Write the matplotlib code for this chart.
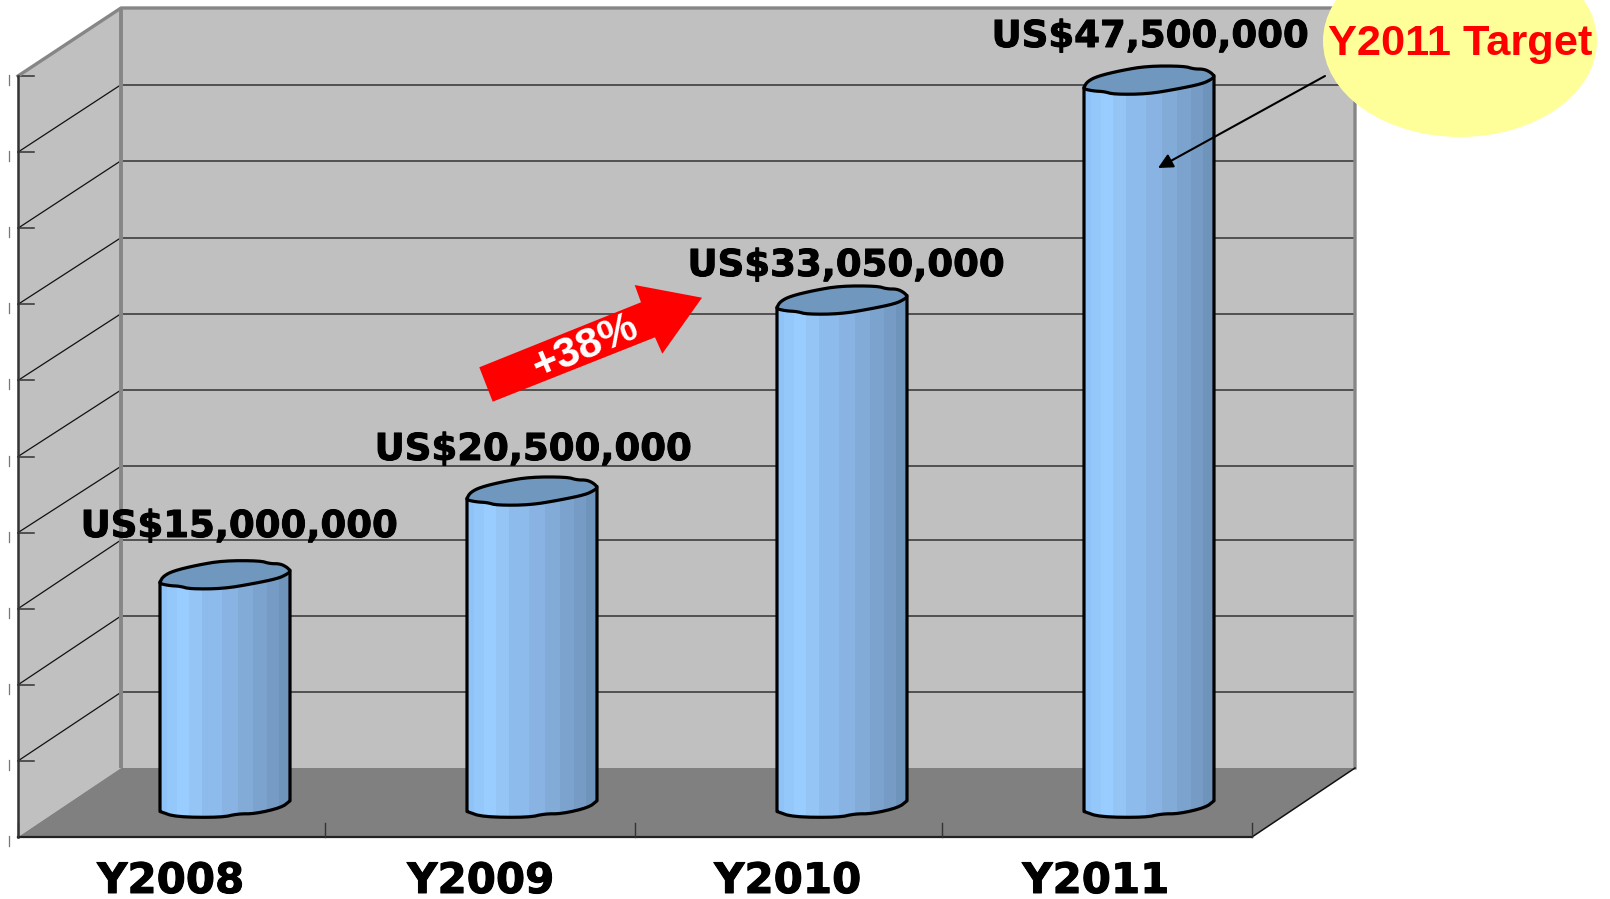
import numpy as np
import matplotlib
matplotlib.use("Agg")
import matplotlib.pyplot as plt
from matplotlib.patches import Polygon, Ellipse
import matplotlib.patheffects as pe

# ---- data ----
categories = ["Y2008", "Y2009", "Y2010", "Y2011"]
values = [15000000, 20500000, 33050000, 47500000]
value_labels = ["US$15,000,000", "US$20,500,000", "US$33,050,000", "US$47,500,000"]
axis_ticks = [0, 5e6, 10e6, 15e6, 20e6, 25e6, 30e6, 35e6, 40e6, 45e6, 50e6]
growth_label = "+38%"
target_label = "Y2011 Target"

# ---- layout (pixels of the 1610x899 canvas) ----
W, H = 1610, 899
PX_PER_UNIT = 15.22 / 1e6
BAR_BASE_PX, BACK_BASE_PX, FRONT_BASE_PX = 803.5, 768, 837
CAT0_PX, CAT_STEP_PX = 225, 308
BAR_NUDGE_PX = [0, -1, 1, 0]
FRONT_L, FRONT_R, BACK_L, BACK_R = 18, 1252, 121, 1355
HALF_W = 65 / CAT_STEP_PX
BACK_GRID_PX = [692.3, 616, 540, 466.3, 390, 313.7, 237.7, 160.7, 84.7]

fig = plt.figure(figsize=(W / 100, H / 100), dpi=100, facecolor="white")

def overlay(z):
    a = fig.add_axes([0, 0, 1, 1], zorder=z)
    a.set_xlim(0, W)
    a.set_ylim(H, 0)
    a.axis("off")
    return a

back = overlay(1)
front = overlay(3)

# ---- 3D box ----
WALL, FLOOR, EDGE, DARK = "#C0C0C0", "#808080", "#868686", "#333333"
back.add_patch(Polygon([(BACK_L, 8), (BACK_R, 8), (BACK_R, BACK_BASE_PX), (BACK_L, BACK_BASE_PX)],
                       fc=WALL, ec="none"))
back.add_patch(Polygon([(FRONT_L, 76), (BACK_L, 8), (BACK_L, BACK_BASE_PX), (FRONT_L, FRONT_BASE_PX)],
                       fc=WALL, ec="none"))
back.add_patch(Polygon([(FRONT_L, FRONT_BASE_PX), (FRONT_R, FRONT_BASE_PX),
                        (BACK_R, BACK_BASE_PX), (BACK_L, BACK_BASE_PX)], fc=FLOOR, ec="none"))

for t, gy in zip(axis_ticks[1:-1], BACK_GRID_PX):
    d = t * PX_PER_UNIT
    back.plot([BACK_L, BACK_R], [gy, gy], color=DARK, lw=1.1, zorder=2)
    back.plot([FRONT_L, BACK_L], [FRONT_BASE_PX - d, gy], color="#111111", lw=0.9, zorder=2)
for t in axis_ticks:
    y = FRONT_BASE_PX - t * PX_PER_UNIT
    back.plot([FRONT_L, FRONT_L + 16], [y, y], color=DARK, lw=1.1, zorder=3)
    back.plot([8.5, 8.5], [y - 1, y + 9], color="#777777", lw=0.9, zorder=3)

back.plot([BACK_L, BACK_L], [8, BACK_BASE_PX], color=EDGE, lw=2.8, zorder=4, solid_capstyle="butt")
back.plot([FRONT_L, BACK_L, BACK_R, BACK_R], [76, 8, 8, BACK_BASE_PX], color=EDGE, lw=2.4, zorder=4)
back.plot([FRONT_L, FRONT_L], [76, FRONT_BASE_PX], color=DARK, lw=1.8, zorder=5)
back.plot([FRONT_L, FRONT_R], [FRONT_BASE_PX] * 2, color="#222222", lw=1.6, zorder=5)
back.plot([FRONT_R, BACK_R], [FRONT_BASE_PX, BACK_BASE_PX], color="#111111", lw=1.1, zorder=5)
for i in range(len(categories) + 1):
    x = [FRONT_L, 325, 635, 942, FRONT_R][i]
    back.plot([x, x], [FRONT_BASE_PX, FRONT_BASE_PX - 14], color=DARK, lw=1.0, zorder=5)

# ---- bars (cylinders) on real data axes ----
ax = fig.add_axes([0, 0, 1, 1], zorder=2)
ax.patch.set_alpha(0)
ax.axis("off")
ax.set_xlim(-CAT0_PX / CAT_STEP_PX, (W - CAT0_PX) / CAT_STEP_PX)
ax.set_ylim((BAR_BASE_PX - H) / PX_PER_UNIT, BAR_BASE_PX / PX_PER_UNIT)

STRIP_EDGES = np.array([-65, -58, -48, -36, -22.7, -2.7, 12.7, 28.3, 41.7, 54.3, 65]) / 65
STRIP_COLORS = ["#8FC3F7", "#94C8FB", "#99CCFF", "#94C5F5", "#8DBBEB",
                "#88B3E2", "#82ABD8", "#7CA3CE", "#769CC6", "#6F94BC"]
CAP_COLOR = "#7098BF"
CAP_SHAPE = np.array([(-65, -6.7), (-61.7, -1), (-51.7, 4.3), (-28.3, 10), (-1.7, 14.5), (35, 14.5),
                      (45, 11.5), (55, 11.5), (62, 8), (65.5, 4), (62, 1.0), (53, -3.3), (28, -8.5),
                      (-1.7, -13.5), (-35, -13.8), (-45, -11), (-55, -10.5), (-65, -8.5)])
BASE_SHAPE = np.array([(-65, -8), (-49.3, -13.5), (-3.3, -14), (12.7, -10.3), (30, -10.3),
                       (56.7, -4), (65, 2.7)])

def chaikin(pts, closed, n=2):
    for _ in range(n):
        a = pts
        b = np.roll(a, -1, axis=0) if closed else a[1:]
        a2 = a if closed else a[:-1]
        q = 0.75 * a2 + 0.25 * b
        r = 0.25 * a2 + 0.75 * b
        mid = np.empty((2 * len(a2), 2))
        mid[0::2], mid[1::2] = q, r
        pts = mid if closed else np.vstack([a[0], mid, a[-1]])
    return pts

CAP_SMOOTH = chaikin(CAP_SHAPE, True)
BASE_SMOOTH = chaikin(BASE_SHAPE, False)

def shape_to_data(shape, cat, val):
    return np.column_stack([cat + shape[:, 0] / CAT_STEP_PX,
                            val + shape[:, 1] / PX_PER_UNIT])

for i, v in enumerate(values):
    c = i + BAR_NUDGE_PX[i] / CAT_STEP_PX
    cap = shape_to_data(CAP_SMOOTH, c, v)
    base = shape_to_data(BASE_SMOOTH, c, 0)
    body = np.vstack([[(c - HALF_W, v - 6.7 / PX_PER_UNIT)], base, [(c + HALF_W, v + 5 / PX_PER_UNIT)]])
    ax.add_patch(Polygon(body, closed=True, fc="none", ec="black", lw=2.3, zorder=5, joinstyle="round"))
    clip = Polygon(body, closed=True, transform=ax.transData)
    for k, col in enumerate(STRIP_COLORS):
        l, r = c + STRIP_EDGES[k] * HALF_W, c + STRIP_EDGES[k + 1] * HALF_W
        bars = ax.bar((l + r) / 2, v + 20 / PX_PER_UNIT, width=(r - l) * 1.02,
                      bottom=-20 / PX_PER_UNIT, color=col, lw=0, zorder=4)
        bars[0].set_clip_path(clip)
    ax.add_patch(Polygon(cap, closed=True, fc=CAP_COLOR, ec="black", lw=2.3, zorder=6, joinstyle="round"))

# ---- annotations ----
LABEL_FONT = "DejaVu Sans"
heavy = [pe.withStroke(linewidth=0.7, foreground="black")]
label_x = [239, 533, 846, 1150]
label_base = [537, 460, 276, 47]
for s, x, y in zip(value_labels, label_x, label_base):
    front.text(x, y, s, ha="center", va="baseline", fontsize=26.7, fontweight="bold",
               family=LABEL_FONT, color="black", path_effects=heavy)

cat_x = [170.5, 480.5, 787.5, 1095.6]
for s, x in zip(categories, cat_x):
    front.text(x, 893, s, ha="center", va="baseline", fontsize=30.2, fontweight="bold",
               family=LABEL_FONT, color="black", path_effects=heavy)

front.add_patch(Polygon([(479.3, 367.3), (641, 302.3), (634.7, 285), (702, 297.7),
                         (662.3, 353.7), (655, 337.3), (492.7, 401.7)], fc="#FF0000", ec="none"))
front.text(585, 347, growth_label, ha="center", va="center", rotation=23, rotation_mode="anchor",
           fontsize=31, fontweight="bold", family="Liberation Sans", color="white")

front.add_patch(Ellipse((1460, 41), 274, 192, fc="#FFFF99", ec="none", zorder=4))
front.text(1460, 55, target_label, ha="center", va="baseline", fontsize=31.2, fontweight="bold",
           family="Liberation Sans", color="#FF0000", zorder=6)
front.annotate("", xy=(1158, 168), xytext=(1325, 76),
               arrowprops=dict(arrowstyle="-|>", color="black", lw=1.5, mutation_scale=22,
                               shrinkA=0, shrinkB=0), zorder=5)

fig.savefig("out.png", dpi=100)
